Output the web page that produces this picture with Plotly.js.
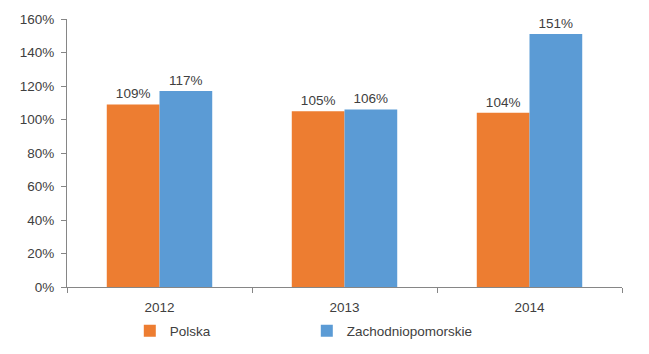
<!DOCTYPE html>
<html>
<head>
<meta charset="utf-8">
<script src="https://cdn.plot.ly/plotly-3.0.1.min.js"></script>
<style>html,body{margin:0;padding:0;background:#fff;}#chart{width:649px;height:354px;}</style>
</head>
<body>
<div id="chart"></div>
<script>
const years = ['2012', '2013', '2014'];
const polska = [109, 105, 104];
const zachodniopomorskie = [117, 106, 151];
const seriesNames = ['Polska', 'Zachodniopomorskie'];
const yTicks = [0, 20, 40, 60, 80, 100, 120, 140, 160];

const font = 'Liberation Sans, Arial, sans-serif';
const traces = [
  {type: 'bar', x: years, y: polska, name: seriesNames[0],
   marker: {color: '#ED7D31'}, text: polska.map(v => v + '%'), textposition: 'outside',
   textfont: {family: font, size: 13.5, color: '#404040'}, cliponaxis: false, hoverinfo: 'none'},
  {type: 'bar', x: years, y: zachodniopomorskie, name: seriesNames[1],
   marker: {color: '#5B9BD5'}, text: zachodniopomorskie.map(v => v + '%'), textposition: 'outside',
   textfont: {family: font, size: 13.5, color: '#404040'}, cliponaxis: false, hoverinfo: 'none'}
];
const layout = {
  width: 649, height: 354,
  margin: {l: 67, r: 27, t: 19, b: 67},
  paper_bgcolor: '#fff', plot_bgcolor: '#fff',
  font: {family: font, size: 13.5, color: '#404040'},
  barmode: 'group', bargap: 0.43, bargroupgap: 0,
  showlegend: true,
  legend: {orientation: 'h', xref: 'container', yref: 'container', x: 0.2, xanchor: 'left',
           y: 0.065, yanchor: 'middle',
           font: {family: font, size: 13.5, color: '#404040'}, entrywidth: 132, traceorder: 'normal',
           itemwidth: 30},
  xaxis: {type: 'category', range: [-0.5, 2.5], showline: true, linecolor: '#868686', linewidth: 1,
          ticks: 'outside', ticklen: 5, tickcolor: '#868686', tickson: 'boundaries',
          ticklabelstandoff: 8, automargin: false,
          showgrid: false, zeroline: false, tickfont: {family: font, size: 13.5, color: '#404040'}},
  yaxis: {range: [0, 160], tickvals: yTicks, ticktext: yTicks.map(v => v + '%'),
          showline: true, linecolor: '#868686', linewidth: 1, ticks: 'outside', ticklen: 5,
          tickcolor: '#868686', showgrid: false, zeroline: false, ticklabelstandoff: 4, automargin: false,
          tickfont: {family: font, size: 13.5, color: '#404040'}}
};
Plotly.newPlot('chart', traces, layout, {displayModeBar: false, staticPlot: true});
</script>
</body>
</html>
